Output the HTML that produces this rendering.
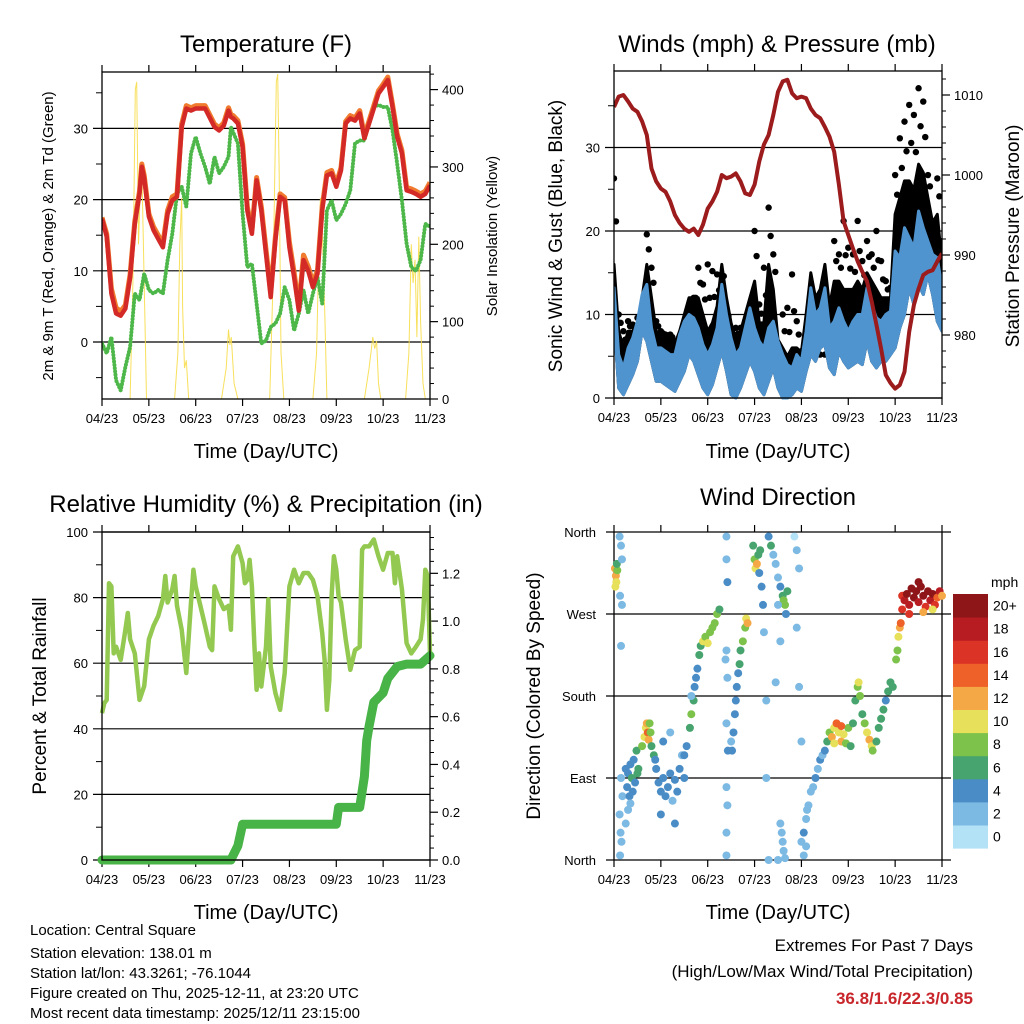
<!DOCTYPE html>
<html><head><meta charset="utf-8"><style>
html,body{margin:0;padding:0;background:#fff;}
svg{display:block;font-family:"Liberation Sans",Arial,sans-serif;}
</style></head><body>
<svg id="svg" width="1024" height="1024" viewBox="0 0 1024 1024" xmlns="http://www.w3.org/2000/svg">
<rect width="1024" height="1024" fill="#fff"/>
<text x="266" y="52" font-size="24" text-anchor="middle">Temperature (F)</text>
<text x="777" y="52" font-size="24" text-anchor="middle">Winds (mph) &amp; Pressure (mb)</text>
<text x="266" y="512" font-size="24" text-anchor="middle">Relative Humidity (%) &amp; Precipitation (in)</text>
<text x="778" y="505" font-size="24" text-anchor="middle">Wind Direction</text>
<text x="266" y="458" font-size="20" text-anchor="middle">Time (Day/UTC)</text>
<text x="778" y="458" font-size="20" text-anchor="middle">Time (Day/UTC)</text>
<text x="266" y="919" font-size="20" text-anchor="middle">Time (Day/UTC)</text>
<text x="778" y="919" font-size="20" text-anchor="middle">Time (Day/UTC)</text>
<text transform="translate(53,236) rotate(-90)" font-size="15" text-anchor="middle">2m &amp; 9m T (Red, Orange) &amp; 2m Td (Green)</text>
<text transform="translate(497,236) rotate(-90)" font-size="15" text-anchor="middle">Solar Insolation (Yellow)</text>
<text transform="translate(562,236) rotate(-90)" font-size="19" text-anchor="middle">Sonic Wind &amp; Gust (Blue, Black)</text>
<text transform="translate(1019,236) rotate(-90)" font-size="19" text-anchor="middle">Station Pressure (Maroon)</text>
<text transform="translate(46,696) rotate(-90)" font-size="19" text-anchor="middle">Percent &amp; Total Rainfall</text>
<text transform="translate(540,696) rotate(-90)" font-size="19" text-anchor="middle">Direction (Colored By Speed)</text>
<g font-size="15">
<text x="30" y="935">Location: Central Square</text>
<text x="30" y="958">Station elevation: 138.01 m</text>
<text x="30" y="978">Station lat/lon: 43.3261; -76.1044</text>
<text x="30" y="998">Figure created on Thu, 2025-12-11, at 23:20 UTC</text>
<text x="30" y="1018">Most recent data timestamp: 2025/12/11 23:15:00</text>
</g>
<g font-size="17" text-anchor="end">
<text x="973" y="951">Extremes For Past 7 Days</text>
<text x="973" y="977">(High/Low/Max Wind/Total Precipitation)</text>
<text x="973" y="1004" font-weight="bold" fill="#c8262b">36.8/1.6/22.3/0.85</text>
</g>
<g id="layer"></g>
</svg>
<script>
const xTickLabels = ["04/23","05/23","06/23","07/23","08/23","09/23","10/23","11/23"];
const tempT = [0,0.1,0.2,0.3,0.4,0.5,0.6,0.7,0.8,0.85,0.9,1.0,1.1,1.2,1.3,1.4,1.5,1.6,1.7,1.8,1.9,2.0,2.2,2.4,2.5,2.6,2.7,2.75,2.8,2.9,3.0,3.1,3.2,3.3,3.4,3.5,3.6,3.7,3.8,3.9,4.0,4.1,4.2,4.3,4.4,4.5,4.6,4.7,4.8,4.9,5.0,5.1,5.2,5.3,5.4,5.5,5.6,5.7,5.8,5.9,6.0,6.1,6.2,6.3,6.4,6.5,6.6,6.7,6.8,6.9,7.0];
const tempRed = [17.3,14.8,6.8,4,3.7,4.7,9,16.6,20.8,24.6,23,17.6,15.7,14.5,13.3,18,19.9,20.4,30.2,32.8,32.5,32.8,32.8,30.2,29.7,30.4,32.5,31.6,31.4,30.7,27.4,18.5,15.2,22.7,18.5,12.4,6.3,14.3,20.4,19.9,13.3,9.1,4.4,11.5,10,7.7,9.6,18.5,23.4,23.7,21.8,24.1,30.7,31.4,31.1,32.1,28.6,30.7,32.8,34.9,35.8,36.8,33,28.8,26.5,21.3,21.1,20.8,20.4,20.8,22];
const tempOrange = [17.5,15.2,7.5,4.8,4.3,5.2,9.5,17,21.2,25,23.4,18,16.2,15,13.8,18.5,20.4,20.8,30.6,33.2,32.9,33.2,33.2,30.6,30.1,30.8,32.9,32,31.8,31.1,27.8,19,15.7,23.1,19,13,7,14.8,20.8,20.3,14,9.8,5,12.2,10.6,8.3,10.1,19,23.8,24.1,22.2,24.5,31,31.8,31.5,32.5,29,31.1,33.2,35.3,36.2,37.2,33.4,29.2,26.9,21.7,21.5,21.2,20.8,21.2,22.4];
const dewT = [0,0.1,0.2,0.3,0.4,0.5,0.6,0.7,0.8,0.9,1.0,1.1,1.2,1.3,1.4,1.5,1.6,1.7,1.8,1.9,2.0,2.1,2.2,2.3,2.4,2.5,2.6,2.7,2.75,2.9,3.0,3.1,3.2,3.3,3.4,3.5,3.6,3.7,3.8,3.9,4.0,4.1,4.2,4.3,4.4,4.5,4.6,4.7,4.8,4.9,5.0,5.1,5.2,5.3,5.4,5.5,5.6,5.7,5.8,5.9,6.0,6.1,6.2,6.3,6.4,6.5,6.6,6.7,6.8,6.9,7.0];
const dewVals = [-0.2,-1.6,0.7,-5.4,-6.8,-3.5,-0.7,6.8,5.9,9.6,7.3,6.8,7.3,6.8,11.5,15.2,20.8,21.8,19,26.5,28.8,26.5,24.6,22.2,26,23.7,24.6,26,30.2,27.9,18,10.5,11,5.4,-0.2,0.2,2.1,2.6,4,7.7,5.9,1.6,4,7.3,4,6.8,9.1,5.4,18.5,19.9,17.1,18,19.4,21.3,27.9,28.3,28.3,31.1,33,33.3,33,33,29.7,25,19.9,13.8,10.5,10,11.5,16.6,16.2];
const solarT = [0,0.6,0.66,0.71,0.74,0.78,0.82,0.85,0.9,0.95,1.55,1.62,1.66,1.7,1.72,1.76,1.8,1.85,2.55,2.65,2.7,2.73,2.76,2.82,2.9,3.58,3.65,3.72,3.75,3.78,3.82,3.88,4.5,4.58,4.63,4.66,4.7,4.75,4.8,5.6,5.7,5.78,5.82,5.86,5.9,5.95,6.48,6.55,6.6,6.64,6.68,6.72,6.76,6.8,6.85,6.9,7];
const solarV = [0,0,150,400,410,200,280,300,150,0,0,60,200,260,120,40,50,0,0,40,90,70,80,20,0,0,150,410,420,300,60,0,0,60,200,260,220,120,0,0,40,80,65,75,20,0,0,60,200,150,180,80,210,100,20,0,0];

const windT = [0,0.1,0.2,0.3,0.4,0.5,0.6,0.7,0.8,0.9,1.0,1.1,1.2,1.3,1.4,1.5,1.6,1.7,1.8,1.9,2.0,2.1,2.2,2.3,2.4,2.5,2.6,2.7,2.8,2.9,3.0,3.1,3.2,3.3,3.4,3.5,3.6,3.7,3.8,3.9,4.0,4.1,4.2,4.3,4.4,4.5,4.6,4.7,4.8,4.9,5.0,5.1,5.2,5.3,5.4,5.5,5.6,5.7,5.8,5.9,6.0,6.1,6.2,6.3,6.4,6.5,6.6,6.7,6.8,6.9,7.0];
const windLow = [9.2,1.2,0.4,1.6,2.8,4.4,8,6.8,4.4,2,2,1.6,1.2,0.8,2,3.2,5.2,4.4,2.8,1.2,0.4,1.6,3.6,5.6,3.2,0.4,0,1.2,2.8,4.4,3.2,1.2,0.4,2,3.6,1.2,0,0,0.4,1.2,0.8,3.2,5.2,4.4,6,6.4,3.6,2.8,5.6,4.4,3.6,4,4.4,4,6.8,4.4,3.6,4.4,4.4,5.2,6,8.4,10,13.2,11.2,13.6,12.4,14.8,12.4,9.2,8];
const windHigh = [13.2,5.2,3.6,6,7.2,9.2,12.4,13.6,8.4,6,6,5.6,5.2,5.2,7.6,9.2,10,9.6,8.4,6.4,5.2,6.4,8.4,13.6,10,7.2,5.2,6,8.4,10.8,8.4,6.8,6,8.4,9.2,6.8,5.2,4,3.6,5.2,4.4,8,13.2,10,10.8,13.2,8.4,9.2,10.8,9.2,8,9.2,10,10,13.2,11.2,9.6,9.2,10,10.4,17.6,16.8,20.4,19.2,18,22.4,20.4,18.8,17.2,16.8,13.2];
const gustMid = [16,8,6,8,8,9,12,16,12,8,7.5,7,7,6.5,8,10,12,12,12,10,8,9,11,16,12,9,7,8,10,12,14,9,9,16,13,7,6,5,6,6,5.5,10,15,12,13,16,11,14,14,13,13,13,14,13,15,14,13,12,12,12,22,24,26,26,25,28,27,24,21,22,16];
const gustHigh = [26.3,10,8,9.2,8.8,9.6,10,19.6,15.6,9.2,8,7.6,7.6,6.8,6,7.6,8.4,12,15.6,13.6,16,15.2,14.8,13.2,7.6,7.6,8.4,8.4,9.2,9.6,20,11.2,15.6,22.8,17.2,5.2,10,10.8,14.8,9.2,5.6,4.8,5.2,6,5.2,5.2,11.6,18.8,17.2,21.2,18,17.2,21.2,16.4,18.8,17.2,20,16.4,14,13.2,26.7,31.1,33.1,35.1,33.9,37.1,35.5,26.7,21.2,26.3,18.8];
const presT = windT;
const presVals = [1008.5,1009.8,1010,1009.2,1008.3,1007.9,1006.7,1005,1000.8,999.2,998.3,997.9,996.7,995,994,993.3,992.9,993.3,992.5,993.8,995.8,996.7,997.9,1000,999.6,999.8,1000.2,999.2,997.7,997.5,998.8,1001.7,1003.8,1005,1007.5,1010.4,1011.7,1011.9,1010.2,1009.6,1009.8,1009.6,1008.3,1007.5,1007.1,1006,1004.8,1002.9,998.8,994.2,992.5,990.8,989.2,987.9,986.7,984.2,981.3,978.3,975,974,973.3,973.75,975.4,980.4,983.75,985.8,987.5,987.9,988.1,989.2,990.2];

const rhT = [0,0.05,0.1,0.15,0.2,0.25,0.3,0.4,0.5,0.55,0.6,0.7,0.8,0.9,1.0,1.1,1.2,1.3,1.35,1.4,1.5,1.55,1.6,1.7,1.8,1.9,1.95,2.0,2.1,2.2,2.3,2.35,2.4,2.5,2.6,2.7,2.75,2.8,2.9,3.0,3.05,3.1,3.15,3.2,3.25,3.3,3.35,3.4,3.5,3.55,3.6,3.7,3.8,3.9,4.0,4.1,4.2,4.3,4.4,4.5,4.6,4.7,4.75,4.8,4.85,4.9,4.95,5.0,5.05,5.1,5.2,5.3,5.4,5.5,5.55,5.6,5.7,5.8,5.9,6.0,6.1,6.2,6.25,6.3,6.4,6.5,6.6,6.7,6.8,6.85,6.9,6.95,7.0];
const rhVals = [44.8,47.8,48.8,84.4,83.4,63,65,61,70.2,75.3,67.3,63,48.8,53,67.3,71.4,74.4,79.5,86.6,78.5,82.6,86.6,77.5,70.2,57,78.5,88.5,83.4,77.5,71.4,65,64,83.4,79.5,76.5,77.5,70.2,92.6,95.6,90.5,84.4,85.4,91.5,83.4,66.1,51.9,63,52.9,65,79.5,59,50.9,45.8,57,83.4,88.5,84.4,87.5,87.5,85.4,80.4,69.2,61,45.8,54.9,80.4,92.6,88.5,80.4,78.5,67.3,58,64,65,94.6,95.6,95.6,97.7,92.6,88.5,93.6,93.6,84.4,92.6,82.6,66.1,63,65,67.3,73.4,88.5,86.6,63];
const rainT = [0,2.75,2.8,2.9,3.0,5.0,5.05,5.5,5.6,5.65,5.7,5.8,6.0,6.1,6.3,6.5,6.8,7.0];
const rainVals = [0,0,0.02,0.06,0.15,0.15,0.22,0.22,0.35,0.5,0.56,0.66,0.7,0.76,0.81,0.82,0.82,0.855];

const dirT = [0.02,0.04,0.05,0.07,0.06,0.03, 0.12,0.15,0.17,0.13,0.17,0.15,0.12,0.14,0.16,0.13,0.18,0.15,
0.25,0.28,0.3,0.33,0.35,0.38,0.4,0.42,0.45,0.48,0.5,0.52,0.3,0.25,0.35,
0.6,0.65,0.68,0.7,0.72,0.74,0.76,0.78,0.8,0.85,0.88,0.9,
0.95,1.0,1.05,1.1,1.15,1.2,1.25,1.3,1.35,1.4,1.45,1.5,1.05,1.2,1.0,1.3,1.5,1.55,
1.62,1.65,1.7,1.72,1.75,1.78,1.82,1.85,1.9,1.95,2.0,2.05,2.1,2.15,2.2,2.25,1.65,
2.4,2.4,2.42,2.4,2.42,2.4,2.43,2.4,2.42,2.4,2.4,2.38,
2.5,2.52,2.55,2.58,2.6,2.62,2.65,2.68,2.7,2.75,2.8,2.82,2.85,
2.97,3.0,3.02,3.05,3.08,3.1,3.12,3.15,3.18,3.2,3.25,3.25,3.3,
3.3,3.35,3.4,3.45,3.5,3.55,3.6,3.62,3.65,3.7,3.67,3.5,3.45,3.55,
3.55,3.58,3.6,3.62,3.65,3.5, 3.85,3.9,3.95,3.9,4.0,3.95,
4.0,4.05,4.1,4.12,4.15,4.2,4.25,4.3,4.35,4.4,4.45,4.5,4.55,4.05,4.1,
4.6,4.65,4.7,4.75,4.8,4.85,4.9,4.95,5.0,5.05,4.7,4.85,
5.1,5.15,5.2,5.22,5.25,5.3,5.35,5.4,5.45,5.5,5.52,
5.6,5.65,5.7,5.75,5.8,5.85,5.9,5.95,
6.02,6.05,6.07,6.1,6.12,6.15,6.15,
6.2,6.25,6.3,6.35,6.4,6.45,6.5,6.55,6.6,6.65,6.7,6.75,6.8,6.85,6.9,6.95,7.0,6.3,6.6,6.8,6.5];
const dirDeg = [320,312,305,318,325,300, 355,345,330,290,280,235,50,30,20,5,70,90,
100,80,95,70,105,90,75,110,85,120,95,100,55,40,62,
125,135,145,150,140,132,150,140,125,115,110,100,
85,75,90,70,80,95,65,88,75,100,115,90,130,140,50,40,115,125,
145,160,175,190,200,210,225,235,240,245,238,250,255,260,270,275,180,
355,330,305,230,200,150,120,80,60,30,5,220,
130,120,140,160,175,190,205,215,230,240,255,265,260,
345,330,320,325,335,315,340,300,280,250,175,90,0,
355,345,335,325,310,300,290,285,280,295,270,280,195,240,
40,30,20,10,2,0, 355,340,320,255,130,190,
20,30,45,55,60,75,80,90,100,110,115,120,130,5,15,
140,135,145,150,140,130,138,128,145,125,128,147,
150,175,190,195,180,160,150,140,132,125,120,
130,145,155,165,175,185,195,190,
220,230,245,255,260,275,290,
285,292,280,298,288,295,283,300,290,278,295,285,292,280,288,295,290,270,272,275,305];
const dirSpd = [11,12,10,7,6,10, 1,1,1,2,1,1,1,2,1,1,2,2,
3,4,4,3,4,5,4,3,4,6,6,5,2,2,2,
7,9,10,12,13,12,8,7,6,5,4,4,
4,4,3,4,3,4,2,3,4,3,2,3,4,2,4,4,4,3,
6,7,5,4,3,4,5,6,9,8,9,7,8,8,7,6,1,
1,2,4,2,1,1,3,2,1,2,1,2,
2,4,4,4,4,4,4,5,6,7,8,10,12,
6,8,10,12,6,4,6,4,3,2,2,2,1,
4,5,2,1,2,4,6,8,7,6,4,2,1,1,
1,2,1,1,2,1, 0,1,2,1,1,1,
1,4,1,2,1,2,2,3,2,3,2,4,6,1,1,
8,12,10,14,10,12,9,8,7,6,10,13,
6,6,8,10,8,6,7,10,12,9,7,
6,6,6,5,4,5,6,5,
8,8,10,12,14,16,16,
18,20,17,19,21,20,18,22,21,16,20,17,19,15,14,17,12,15,12,10,19];
const speedBinLabels = ["0","2","4","6","8","10","12","14","16","18","20+"];
const speedColors = ["#b3e1f6","#7cb9e3","#4a8dc6","#47a46e","#7dc24b","#e6e05b","#f5a946","#ee6129","#db3326","#b71c22","#8e1618"];
const dirLabels = ["North","East","South","West","North"];

const NS = "http://www.w3.org/2000/svg";
const layer = document.getElementById("layer");
function mk(tag, attrs, parent) {
  const e = document.createElementNS(NS, tag);
  for (const k in attrs) e.setAttribute(k, attrs[k]);
  (parent || layer).appendChild(e);
  return e;
}
function linePath(ts, vs, xf, yf) {
  let d = "";
  for (let i = 0; i < ts.length; i++) d += (i ? "L" : "M") + xf(ts[i]).toFixed(1) + "," + yf(vs[i]).toFixed(1);
  return d;
}
function bandPath(ts, lo, hi, xf, yf) {
  let d = "";
  for (let i = 0; i < ts.length; i++) d += (i ? "L" : "M") + xf(ts[i]).toFixed(1) + "," + yf(hi[i]).toFixed(1);
  for (let i = ts.length - 1; i >= 0; i--) d += "L" + xf(ts[i]).toFixed(1) + "," + yf(lo[i]).toFixed(1);
  return d + "Z";
}
function xAxis(x0, x1, yTop, yBot, name) {
  const xf = t => x0 + t * (x1 - x0) / 7;
  xTickLabels.forEach((lab, i) => {
    const x = xf(i);
    const tk = mk("path", {d: `M${x},${yBot}V${yBot + 7}M${x},${yTop}V${yTop - 7}`, stroke: "#000", "stroke-width": 1.2});
    
    
    const t = mk("text", {x: x, y: yBot + 24, "font-size": 13, "text-anchor": "middle"});
    t.textContent = lab;
    
    
  });
  return xf;
}
function yTicksLeft(vals, yf, x0, x1, grid, labels, name, minor) {
  vals.forEach((v, i) => {
    const y = yf(v);
    if (grid) {
      const g = mk("line", {x1: x0 - 9, x2: x1, y1: y, y2: y, stroke: "#000", "stroke-width": 1.2});
      
      
    }
    if (labels) {
      const t = mk("text", {x: x0 - 14, y: y + 5, "font-size": 13, "text-anchor": "end"});
      t.textContent = labels[i];
      
      
    }
  });
  (minor || []).forEach(v => {
    const y = yf(v);
    const m = mk("line", {x1: x0 - 6, x2: x0, y1: y, y2: y, stroke: "#000", "stroke-width": 1});
    
    
  });
}
function yTicksRight(vals, yf, x1, labels, name, minor) {
  vals.forEach((v, i) => {
    const y = yf(v);
    const m = mk("line", {x1: x1, x2: x1 + 8, y1: y, y2: y, stroke: "#000", "stroke-width": 1.2});
    
    
    const t = mk("text", {x: x1 + 12, y: y + 5, "font-size": 13});
    t.textContent = labels[i];
    
    
  });
  (minor || []).forEach(v => {
    const y = yf(v);
    const m = mk("line", {x1: x1, x2: x1 + 4, y1: y, y2: y, stroke: "#000", "stroke-width": 1});
    
    
  });
}
function box(x0, y0, x1, y1, name) {
  const b = mk("rect", {x: x0, y: y0, width: x1 - x0, height: y1 - y0, fill: "none", stroke: "#000", "stroke-width": 1.3});
  
  
}
function clip(id, x0, y0, x1, y1) {
  const c = mk("clipPath", {id: id});
  mk("rect", {x: x0, y: y0 - 3, width: x1 - x0, height: y1 - y0 + 6}, c);
}

// Panel 1
(function () {
  const X0 = 102, X1 = 430, Y0 = 72, Y1 = 399;
  const yT = v => 342 - v * 7.12;
  const yS = v => 399 - v * 0.7735;
  const xf = xAxis(X0, X1, Y0, Y1, "temp");
  yTicksLeft([0, 10, 20, 30], yT, X0, X1, true, ["0", "10", "20", "30"], "temp", [-5, 5, 15, 25, 35]);
  yTicksRight([0, 100, 200, 300, 400], yS, X1, ["0", "100", "200", "300", "400"], "solar", [20,40,60,80,120,140,160,180,220,240,260,280,320,340,360,380,420]);
  clip("c1", X0, Y0, X1, Y1);
  const g = mk("g", {"clip-path": "url(#c1)"});
  
  
  const s = mk("path", {d: linePath(solarT, solarV, xf, yS), fill: "none", stroke: "#f7dd4a", "stroke-width": 1, "stroke-opacity": 0.9}, g);
  
  
  const dp = mk("path", {d: linePath(dewT, dewVals, xf, yT), fill: "none", stroke: "#4db749", "stroke-width": 4, "stroke-dasharray": "0.1 3.2", "stroke-linecap": "round", "stroke-linejoin": "round"}, g);
  
  
  const o = mk("path", {d: linePath(tempT, tempOrange, xf, yT), fill: "none", stroke: "#f07a2e", "stroke-width": 5, "stroke-linejoin": "round"}, g);
  
  
  const r = mk("path", {d: linePath(tempT, tempRed, xf, yT), fill: "none", stroke: "#d42a27", "stroke-width": 4.5, "stroke-linejoin": "round"}, g);
  
  
  box(X0, Y0, X1, Y1, "temp");
})();

// Panel 2
(function () {
  const X0 = 614, X1 = 942, Y0 = 71, Y1 = 398;
  const yW = v => 398 - v * 8.35;
  const yP = p => 175 - (p - 1000) * 8;
  const xf = xAxis(X0, X1, Y0, Y1, "winds");
  yTicksLeft([0, 10, 20, 30], yW, X0, X1, true, ["0", "10", "20", "30"], "winds", [5, 15, 25, 35]);
  yTicksRight([980, 990, 1000, 1010], yP, X1, ["980", "990", "1000", "1010"], "pressure", [974,976,978,982,984,986,988,992,994,996,998,1002,1004,1006,1008,1012]);
  clip("c2", X0, Y0, X1, Y1);
  const g = mk("g", {"clip-path": "url(#c2)"});
  
  
  const gb = mk("path", {d: bandPath(windT, windLow, gustMid, xf, yW), fill: "#000", stroke: "#000", "stroke-width": 3, "stroke-linejoin": "round"}, g);
  
  
  windT.forEach((t, i) => {
    const c = mk("circle", {cx: xf(t), cy: yW(gustHigh[i]), r: 3.2, fill: "#000"}, g);
    
    
    const c2 = mk("circle", {cx: xf(t) + 2, cy: yW((gustHigh[i] + gustMid[i]) / 2), r: 3.2, fill: "#000"}, g);
    
    
  });
  const wb = mk("path", {d: bandPath(windT, windLow, windHigh, xf, yW), fill: "#4f94cf", stroke: "#4f94cf", "stroke-width": 3, "stroke-linejoin": "round"}, g);
  
  
  const p = mk("path", {d: linePath(presT, presVals, xf, yP), fill: "none", stroke: "#9c1b1c", "stroke-width": 4, "stroke-linejoin": "round"}, g);
  
  
  box(X0, Y0, X1, Y1, "winds");
})();

// Panel 3
(function () {
  const X0 = 102, X1 = 430, Y0 = 532, Y1 = 860;
  const yR = v => 860 - v * 3.28;
  const yI = v => 860 - v * 238.9;
  const xf = xAxis(X0, X1, Y0, Y1, "humidity");
  yTicksLeft([0, 20, 40, 60, 80, 100], yR, X0, X1, true, ["0", "20", "40", "60", "80", "100"], "humidity", [10, 30, 50, 70, 90]);
  yTicksRight([0, 0.2, 0.4, 0.6, 0.8, 1.0, 1.2], yI, X1, ["0.0", "0.2", "0.4", "0.6", "0.8", "1.0", "1.2"], "rain", [0.05,0.1,0.15,0.25,0.3,0.35,0.45,0.5,0.55,0.65,0.7,0.75,0.85,0.9,0.95,1.05,1.1,1.15,1.25,1.3,1.35]);
  const rh = mk("path", {d: linePath(rhT, rhVals, xf, yR), fill: "none", stroke: "#93c950", "stroke-width": 4.5, "stroke-linejoin": "round"});
  
  
  const rn = mk("path", {d: linePath(rainT, rainVals, xf, yI), fill: "none", stroke: "#48b347", "stroke-width": 9, "stroke-linejoin": "round", "stroke-linecap": "round"});
  
  
  box(X0, Y0, X1, Y1, "humidity");
})();

// Panel 4
(function () {
  const X0 = 614, X1 = 942, Y0 = 532, Y1 = 860;
  const yD = d => 860 - d * 0.9111;
  const xf = xAxis(X0, X1, Y0, Y1, "direction");
  [0, 90, 180, 270, 360].forEach((d, i) => {
    const y = yD(d);
    const l = mk("line", {x1: X0 - 8, x2: X1 + 9, y1: y, y2: y, stroke: "#000", "stroke-width": 1.2});
    
    
    const t = mk("text", {x: X0 - 18, y: y + 5, "font-size": 13, "text-anchor": "end"});
    t.textContent = dirLabels[i];
    
    
  });
  const fr = mk("path", {d: `M${X0},${Y0}V${Y1}M${X1},${Y0}V${Y1}`, stroke: "#000", "stroke-width": 1.3});
  
  
  dirT.forEach((t, i) => {
    const bin = Math.min(10, Math.round(dirSpd[i] / 2));
    const c = mk("circle", {cx: xf(t), cy: yD(dirDeg[i]), r: 4, fill: speedColors[bin]});
    
    
  });
  const cbX = 953, cbTop = 594, cbH = 23.1;
  const mph = mk("text", {x: 991, y: 587, "font-size": 14});
  mph.textContent = "mph";
  
  
  speedBinLabels.forEach((lab, i) => {
    const k = speedBinLabels.length - 1 - i;
    const y = cbTop + k * cbH;
    const r = mk("rect", {x: cbX, y: y, width: 35, height: cbH + 0.5, fill: speedColors[i]});
    
    
    const t = mk("text", {x: 993, y: y + cbH / 2 + 5, "font-size": 14});
    t.textContent = lab;
    
    
  });
})();
</script>
</body></html>
